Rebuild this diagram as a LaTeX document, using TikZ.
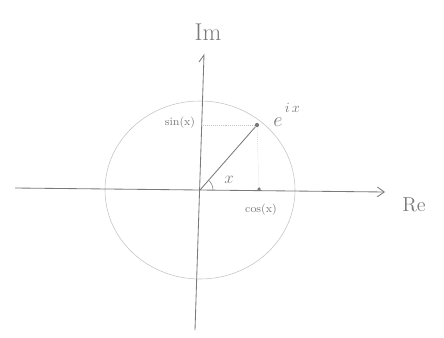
\documentclass[tikz,border=0pt]{standalone}
\usetikzlibrary{arrows.meta}
\definecolor{colpencil}{HTML}{7A7A7A}
\definecolor{colcircle}{HTML}{C4C4C4}
\tikzset{
    axis line/.style={draw=colpencil, semithick},
    axis arrow/.style={axis line, -{Straight Barb[length=5pt, width=7pt]}},
    unit circle/.style={draw=colcircle, thin},
    guide line/.style={draw=colcircle, densely dotted, thin},
    pencil label/.style={text=colpencil, inner sep=1pt},
    dot/.style={circle, fill=colpencil, inner sep=0pt, minimum size=3pt},
}
\begin{document}
\begin{tikzpicture}[x=0.025cm, y=0.025cm]

\useasboundingbox (0, 0) rectangle (444, 337);

% ===== COORDINATES =====
\coordinate (O) at (200, 147);
\coordinate (reStart) at (15, 149);
\coordinate (reEnd) at (385, 145);
\coordinate (imStart) at (195, 7);
\coordinate (imEnd) at (204, 282);
\coordinate (imHook) at (199, 275);
\coordinate (sinFoot) at (202, 212);

% ===== NODES =====
\node[dot] (P) at (257, 212) {};
\node[dot, minimum size=2.5pt] (cosFoot) at (259, 148) {};
\node[pencil label, font=\LARGE] (Im) at (208, 305) {Im};
\node[pencil label, font=\Large] (Re) at (414, 132) {Re};
\node[pencil label, font=\footnotesize] (sinLabel) at (180, 214) {sin(x)};
\node[pencil label, font=\footnotesize] (cosLabel) at (261, 127) {cos(x)};
\node[pencil label, font=\Large] (eix) at (287, 222) {$e^{\raisebox{5pt}{$\scriptstyle\,i\,x$}}$};
\node[pencil label, font=\large] (xLabel) at (229, 157) {$x$};

% ===== CIRCLE =====
\draw[unit circle] (O) circle[x radius=95, y radius=89];

% ===== AXES =====
\draw[axis arrow] (reStart) -- (reEnd);
\draw[axis line] (imStart) -- (imEnd) -- (imHook);

% ===== ANGLE AND PROJECTIONS =====
\draw[axis line] (O) -- (P);
\draw[guide line] (P) -- (sinFoot);
\draw[guide line] (P) -- (cosFoot);
\draw[axis line, thin] (O) ++(13, 0) arc[start angle=0, end angle=49, radius=13];

\end{tikzpicture}
\end{document}
